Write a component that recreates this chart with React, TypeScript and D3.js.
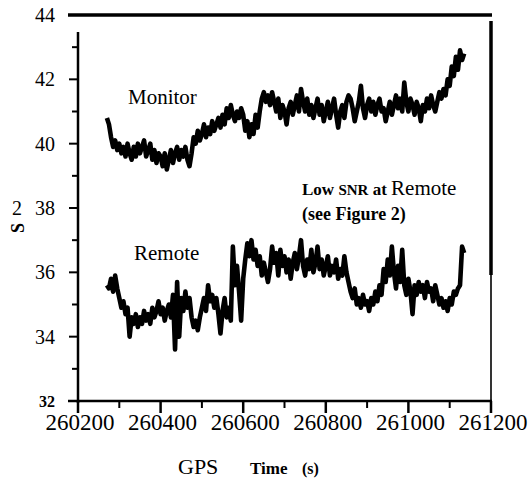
import React from 'react';
import * as d3 from 'd3';

// sampled every 5 s starting at GPS time 260270
const startTime = 260270;
const stepSec = 5;

const monitorValues = [
  40.8, 40.6, 40.2, 39.9, 40.1, 39.8, 40.0, 39.7, 39.9, 39.6,
  40.0, 39.7, 39.5, 39.9, 39.6, 40.0, 39.7, 39.9, 40.1, 39.6,
  39.8, 40.0, 39.5, 39.8, 39.4, 39.7, 39.6, 39.3, 39.7, 39.2,
  39.5, 39.8, 39.4, 39.7, 39.9, 39.5, 39.8, 39.6, 39.9, 39.5,
  39.3, 39.7, 40.2, 40.0, 40.4, 40.1, 40.3, 40.6, 40.2, 40.5,
  40.3, 40.7, 40.4, 40.6, 40.8, 40.5, 40.9, 40.6, 41.1, 40.8,
  41.2, 40.9, 40.7, 41.0, 40.8, 41.1, 40.9, 40.4, 40.7, 40.2,
  40.6, 40.3, 40.9, 40.5, 41.0, 41.4, 41.6, 41.3, 41.5, 41.2,
  41.6, 41.3, 41.0, 41.4, 40.8, 41.2, 41.0, 40.6, 41.1, 41.3,
  40.9, 41.2, 41.5, 41.0, 41.7, 41.3, 41.0, 41.4, 40.9, 41.2,
  40.8, 41.1, 41.4, 40.9, 41.2, 40.7, 41.0, 41.3, 40.8, 41.1,
  41.4, 40.9, 40.5, 41.0, 41.2, 40.8, 41.3, 41.5, 41.4, 41.1,
  40.7, 41.0, 41.3, 41.8, 41.1, 40.8, 41.2, 41.4, 41.0, 41.3,
  40.9, 41.2, 41.4, 41.0, 41.1, 40.7, 41.0, 41.3, 40.9, 41.2,
  41.5, 41.1, 41.4, 41.0, 41.9, 41.3, 41.0, 41.4, 41.2, 40.9,
  41.3, 41.1, 40.7, 41.2, 41.0, 41.4, 41.1, 41.5, 41.2, 41.0,
  41.3, 41.6, 41.4, 41.7, 41.5, 42.0, 41.8, 42.4, 42.1, 42.7,
  42.3, 42.9, 42.6, 42.8,
];

const remoteValues = [
  35.6, 35.5, 35.8, 35.4, 35.9, 35.5, 35.2, 34.9, 35.1, 34.7,
  34.9, 34.0, 34.6, 34.4, 34.7, 34.3, 34.6, 34.4, 34.8, 34.5,
  34.7, 34.4, 34.9, 34.6, 34.8, 35.1, 34.7, 34.9, 34.5, 34.8,
  35.0, 34.6, 35.3, 33.6, 35.7, 34.0, 35.2, 34.8, 35.4, 34.9,
  35.2, 34.6, 34.3, 34.5, 34.2, 34.6, 34.9, 35.2, 34.8, 35.6,
  35.1, 35.3, 34.9, 35.2, 34.7, 34.1, 34.8, 35.2, 34.6, 34.9,
  34.5, 36.8, 35.6, 36.2, 35.4, 34.5, 35.8, 36.4, 36.9, 36.5,
  37.0, 36.4, 36.7, 36.2, 36.5, 35.9, 36.3, 36.0, 35.7, 36.1,
  36.8, 36.3, 36.6, 35.9, 36.7, 36.2, 36.5, 36.0, 36.4, 35.8,
  36.3, 36.6, 36.1, 36.5, 37.0, 36.2, 35.9, 36.4, 36.1, 36.7,
  36.0, 36.3, 36.8, 36.1, 36.4, 35.9, 36.2, 36.5, 35.9, 36.2,
  36.0, 36.4, 35.8, 36.1, 35.9, 36.5, 36.0, 35.7, 35.4, 35.2,
  35.5, 35.0, 35.2, 34.9, 35.3, 35.0, 35.1, 34.8, 35.2, 35.0,
  35.4, 35.1, 35.6, 35.3, 36.1, 35.7, 36.4, 35.9, 36.8, 36.0,
  35.5, 36.2, 35.7, 36.7, 35.6, 35.3, 35.8, 35.4, 34.7, 35.6,
  35.3, 35.7, 35.4, 35.6, 35.2, 35.7, 35.4, 35.5, 35.1, 35.6,
  35.3, 35.0, 35.2, 34.9, 35.1, 34.8, 35.2, 35.0, 35.4, 35.3,
  35.5, 35.6, 36.8, 36.6,
];

const xMajorTicks = [260200, 260400, 260600, 260800, 261000, 261200];
const xMinorTicks = [260300, 260500, 260700, 260900, 261100];
const yTickLabels = [32, 34, 36, 38, 40, 42, 44];
const yMinorTicks = [33, 35, 37, 39, 41, 43];

const serif = 'Liberation Serif';

export default function App() {
  const x = d3.scaleLinear().domain([260200, 261200]).range([78, 491]);
  const y = d3.scaleLinear().domain([32, 44]).range([401, 15]);

  const line = d3
    .line<number>()
    .x((_, i) => x(startTime + i * stepSec))
    .y(d => y(d));

  const x0 = x(260200);
  const x1 = x(261200);

  return (
    <svg
      width={531}
      height={483}
      style={{ position: 'absolute', left: 0, top: 0, background: '#fff' }}
    >
      {/* frame */}
      <line x1={68} x2={x1 + 1} y1={y(44)} y2={y(44)} stroke="#000" strokeWidth={3.5} />
      <line x1={x0} x2={x0} y1={32} y2={y(32) + 2} stroke="#000" strokeWidth={2.5} />
      <line x1={68} x2={x1 + 1} y1={y(32)} y2={y(32)} stroke="#000" strokeWidth={2.5} />
      <line x1={x1} x2={x1} y1={21} y2={275} stroke="#000" strokeWidth={3.5} />
      <line x1={x1} x2={x1} y1={275} y2={y(32)} stroke="#000" strokeWidth={1.6} />

      {/* y ticks */}
      {yTickLabels.filter(v => v > 32 && v < 44).map(v => (
        <line key={'ym' + v} x1={69} x2={x0} y1={y(v)} y2={y(v)} stroke="#000" strokeWidth={2} />
      ))}
      {yMinorTicks.map(v => (
        <line key={'yn' + v} x1={72} x2={x0} y1={y(v)} y2={y(v)} stroke="#000" strokeWidth={2} />
      ))}
      {yTickLabels.map(v => (
        <text
          key={'yl' + v}
          x={55}
          y={y(v)}
          dy="0.35em"
          textAnchor="end"
          fontFamily={serif}
          fontSize={v === 32 ? 16 : 20}
          fontWeight={v === 32 ? 'bold' : 'normal'}
        >
          {v}
        </text>
      ))}

      {/* x ticks */}
      {xMajorTicks.map(v => (
        <line key={'xm' + v} x1={x(v)} x2={x(v)} y1={y(32)} y2={y(32) + 12} stroke="#000" strokeWidth={2.5} />
      ))}
      {xMinorTicks.map(v => (
        <line key={'xn' + v} x1={x(v)} x2={x(v)} y1={y(32)} y2={y(32) + 7} stroke="#000" strokeWidth={2} />
      ))}
      {xMajorTicks.map(v => (
        <text key={'xl' + v} x={x(v) + 2} y={430} textAnchor="middle" fontFamily={serif} fontSize={23}>
          {v}
        </text>
      ))}

      {/* axis titles */}
      <text x={178} y={474} fontFamily={serif} fontSize={22}>GPS</text>
      <text x={250} y={474} fontFamily={serif} fontSize={17} fontWeight="bold">Time</text>
      <text x={302} y={474} fontFamily={serif} fontSize={16} fontWeight="bold">(s)</text>
      <text x={17} y={215} fontFamily={serif} fontSize={20} textAnchor="middle">2</text>
      <text
        transform="translate(24,228) rotate(-90)"
        fontFamily={serif}
        fontSize={18}
        fontWeight="bold"
        textAnchor="middle"
      >
        S
      </text>

      {/* series */}
      <path d={line(monitorValues) ?? ''} fill="none" stroke="#000" strokeWidth={4.6} strokeLinejoin="round" />
      <path d={line(remoteValues) ?? ''} fill="none" stroke="#000" strokeWidth={4.6} strokeLinejoin="round" />

      {/* annotations */}
      <text x={128} y={104} fontFamily={serif} fontSize={21}>Monitor</text>
      <text x={134} y={260} fontFamily={serif} fontSize={21}>Remote</text>
      <text x={302} y={195} fontFamily={serif}>
        <tspan fontSize={17} fontWeight="bold">Low </tspan>
        <tspan fontSize={15} fontWeight="bold">SNR</tspan>
        <tspan fontSize={17} fontWeight="bold"> at </tspan>
        <tspan fontSize={21}>Remote</tspan>
      </text>
      <text x={302} y={220} fontFamily={serif} fontSize={18} fontWeight="bold">(see Figure 2)</text>
    </svg>
  );
}
